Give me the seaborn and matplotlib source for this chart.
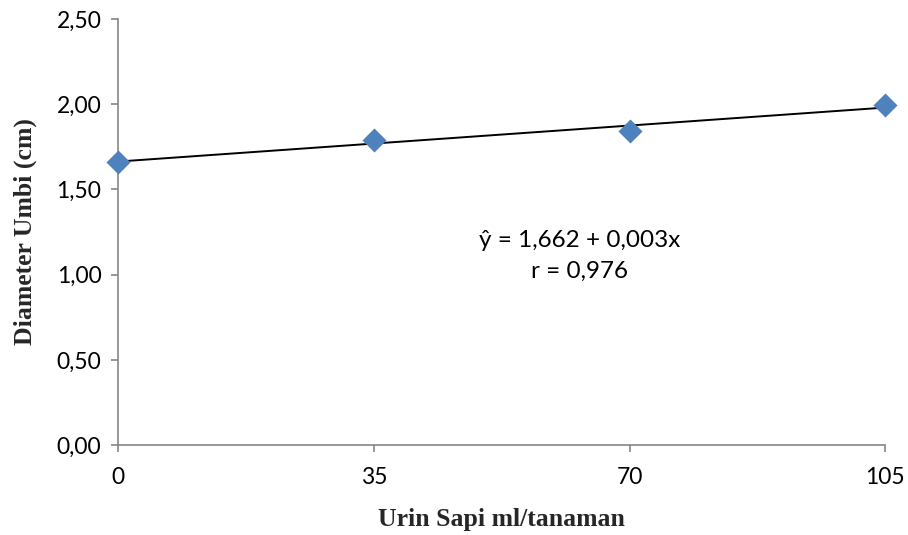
import numpy as np
import pandas as pd
import matplotlib
matplotlib.use("Agg")
import matplotlib.pyplot as plt
import seaborn as sns

# Data
dosis = [0, 35, 70, 105]
diameter = [1.661, 1.788, 1.845, 1.994]
xtick_labels = ["0", "35", "70", "105"]
ytick_values = [0.0, 0.5, 1.0, 1.5, 2.0, 2.5]
ytick_labels = ["0,00", "0,50", "1,00", "1,50", "2,00", "2,50"]
equation_text = "ŷ = 1,662 + 0,003x"
r_text = "r = 0,976"

df = pd.DataFrame({"dosis": dosis, "diameter": diameter})

sns.set_theme(style="white")
plt.rcParams["font.family"] = ["Lato", "DejaVu Sans"]

fig = plt.figure(figsize=(9.08, 5.35), dpi=100)
ax = fig.add_axes([0.130, 0.168, 0.845, 0.7965])

sns.regplot(data=df, x="dosis", y="diameter", ax=ax, ci=None, truncate=True,
            marker="D",
            scatter_kws={"s": 150, "color": "#4F81BD", "zorder": 3,
                         "linewidths": 0, "clip_on": False, "alpha": 1},
            line_kws={"color": "black", "lw": 1.4, "zorder": 2})

ax.set_xlim(0, 105)
ax.set_ylim(0, 2.5)
ax.set_xticks(dosis)
ax.set_xticklabels(xtick_labels)
ax.set_yticks(ytick_values)
ax.set_yticklabels(ytick_labels)

for side in ["top", "right"]:
    ax.spines[side].set_visible(False)
for side in ["left", "bottom"]:
    ax.spines[side].set_color("#868686")
    ax.spines[side].set_linewidth(1.2)
ax.tick_params(axis="both", direction="out", length=5, width=1.2, color="#868686",
               labelsize=16.5, labelcolor="black", bottom=True, left=True)
ax.tick_params(axis="y", pad=7)
ax.tick_params(axis="x", pad=11)

ax.set_xlabel("Urin Sapi ml/tanaman", fontsize=18.5, fontweight="bold",
              family="Liberation Serif", labelpad=14)
ax.set_ylabel("Diameter Umbi (cm)", fontsize=18.5, fontweight="bold",
              family="Liberation Serif", labelpad=14)

ax.text(63.2, 1.20, equation_text, ha="center", va="center", fontsize=17.5,
        color="black")
ax.text(63.2, 1.02, r_text, ha="center", va="center", fontsize=17.5, color="black")

fig.savefig("out.png", dpi=100)
